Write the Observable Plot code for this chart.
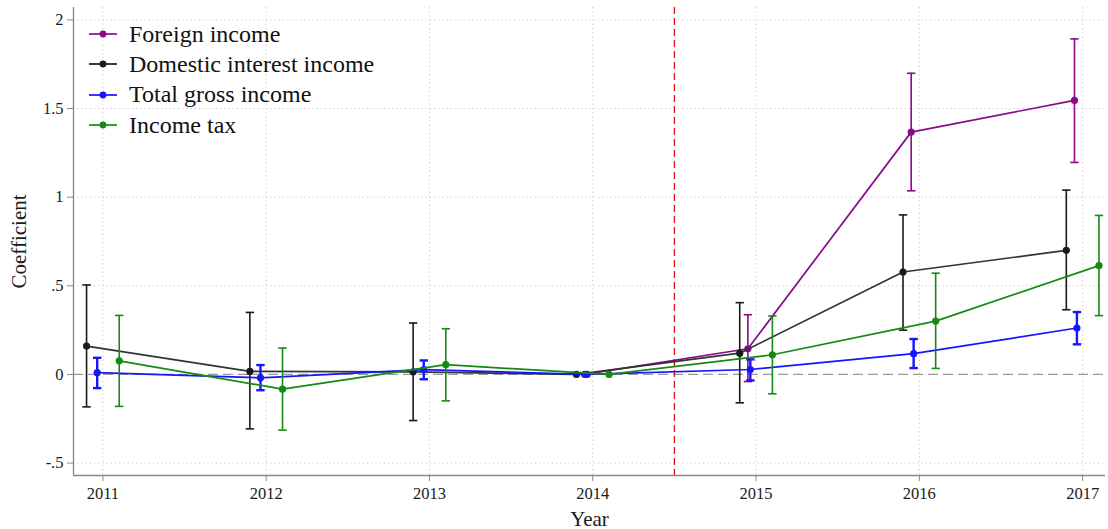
<!DOCTYPE html>
<html><head><meta charset="utf-8">
<script src="https://cdn.jsdelivr.net/npm/d3@7"></script>
<script src="https://cdn.jsdelivr.net/npm/@observablehq/plot@0.6"></script>
<style>
html,body{margin:0;padding:0;background:#fff;}
#wrap{position:relative;width:1108px;height:529px;font-family:"Liberation Serif",serif;color:#1a1a1a;}
#wrap svg{color:#1a1a1a;}
#legend{position:absolute;left:88px;top:19px;}
.row{display:flex;align-items:center;height:30.3px;font-size:24px;color:#111;white-space:nowrap;}
.row svg{margin-right:11px;}
g[aria-label="x-axis label"] text, g[aria-label="y-axis label"] text{font-size:21px;}
</style></head><body><div id="wrap"><div id="legend"></div></div>
<script>
const years = [2011, 2012, 2013, 2014, 2015, 2016, 2017];
const seriesNames = ["Foreign income", "Domestic interest income", "Total gross income", "Income tax"];
const seriesColors = ["#8a0a8a", "#1a1a1a", "#1515ff", "#138a13"];
const seriesOffsets = [-0.05, -0.1, -0.035, 0.1];

const foreignCoef = [null, null, null, 0, 0.145, 1.367, 1.546];
const foreignLo   = [null, null, null, null, -0.04, 1.036, 1.196];
const foreignHi   = [null, null, null, null, 0.337, 1.699, 1.893];

const domesticCoef = [0.16, 0.017, 0.015, 0, 0.12, 0.578, 0.70];
const domesticLo   = [-0.183, -0.307, -0.26, null, -0.16, 0.25, 0.365];
const domesticHi   = [0.505, 0.35, 0.29, null, 0.405, 0.90, 1.04];

const totalCoef = [0.01, -0.019, 0.027, 0, 0.028, 0.117, 0.262];
const totalLo   = [-0.077, -0.089, -0.027, null, -0.034, 0.036, 0.17];
const totalHi   = [0.094, 0.053, 0.079, null, 0.085, 0.20, 0.352];

const taxCoef = [0.077, -0.083, 0.055, 0, 0.111, 0.301, 0.614];
const taxLo   = [-0.18, -0.314, -0.149, null, -0.109, 0.034, 0.332];
const taxHi   = [0.333, 0.149, 0.258, null, 0.33, 0.571, 0.897];

const yTicks = [-0.5, 0, 0.5, 1, 1.5, 2];
const yTickLabels = ["-.5", "0", ".5", "1", "1.5", "2"];
const treatmentLine = 2014.5;
const xDomain = [2010.82, 2017.14];
const yDomain = [-0.57, 2.07];

const seriesCoef = [foreignCoef, domesticCoef, totalCoef, taxCoef];
const seriesLo = [foreignLo, domesticLo, totalLo, taxLo];
const seriesHi = [foreignHi, domesticHi, totalHi, taxHi];
const barWidths = [1.6, 1.6, 2.4, 1.6];

const rows = [];
seriesNames.forEach((name, s) => {
  years.forEach((yr, i) => {
    if (seriesCoef[s][i] == null) return;
    rows.push({series: name, s, x: yr + seriesOffsets[s], coef: seriesCoef[s][i], lo: seriesLo[s][i], hi: seriesHi[s][i]});
  });
});
const ci = rows.filter(d => d.lo != null);

const cap = {draw(ctx, size) { const r = Math.sqrt(size / Math.PI); ctx.moveTo(-r, 0); ctx.lineTo(r, 0); }};

const marks = [
  Plot.gridY(yTicks.filter(v => v !== 0), {stroke: "#c8c8c8", strokeOpacity: 1, strokeDasharray: "1.2,3"}),
  Plot.gridX(years, {stroke: "#c8c8c8", strokeOpacity: 1, strokeDasharray: "1.2,3"}),
  Plot.ruleY([0], {stroke: "#999", strokeWidth: 1.2, strokeDasharray: "10,5"}),
  Plot.ruleX([treatmentLine], {stroke: "#e01010", strokeWidth: 1.3, strokeDasharray: "7,4"}),
  Plot.ruleX([xDomain[0]], {y1: yDomain[0], y2: yDomain[1], stroke: "#888", strokeWidth: 1.3}),
  Plot.ruleY([yDomain[0]], {stroke: "#888", strokeWidth: 1.3}),
  Plot.axisY({ticks: yTicks, tickFormat: d => yTickLabels[yTicks.indexOf(d)], tickSize: 6, tickPadding: 4, fontSize: 16.5, stroke: "#888", label: "Coefficient", labelAnchor: "center", labelOffset: 62, labelArrow: "none"}),
  Plot.axisX({ticks: years, tickFormat: d => String(d), tickSize: 6, tickPadding: 6, fontSize: 16.5, stroke: "#888", label: "Year", labelAnchor: "center", labelOffset: 50, labelArrow: "none"})
];
seriesNames.forEach((name, s) => {
  const sd = rows.filter(d => d.s === s);
  const sc = ci.filter(d => d.s === s);
  marks.push(
    Plot.ruleX(sc, {x: "x", y1: "lo", y2: "hi", stroke: seriesColors[s], strokeWidth: barWidths[s]}),
    Plot.dot(sc, {x: "x", y: "lo", symbol: cap, r: 4.2, stroke: seriesColors[s], strokeWidth: barWidths[s], fill: "none"}),
    Plot.dot(sc, {x: "x", y: "hi", symbol: cap, r: 4.2, stroke: seriesColors[s], strokeWidth: barWidths[s], fill: "none"}),
    Plot.line(sd, {x: "x", y: "coef", stroke: s === 1 ? "#333" : seriesColors[s], strokeWidth: 1.7}),
    Plot.dot(sd, {x: "x", y: "coef", r: 3.6, fill: seriesColors[s], stroke: "none"})
  );
});

const chart = Plot.plot({
  width: 1108, height: 529,
  marginLeft: 73, marginRight: 3, marginTop: 7, marginBottom: 54,
  style: {fontFamily: "'Liberation Serif', serif", background: "#fff"},
  x: {domain: xDomain},
  y: {domain: yDomain},
  marks
});
document.getElementById("wrap").insertBefore(chart, document.getElementById("legend"));

const legend = d3.select("#legend");
seriesNames.forEach((name, s) => {
  const row = legend.append("div").attr("class", "row");
  const sv = row.append("svg").attr("width", 30).attr("height", 12);
  sv.append("line").attr("x1", 1).attr("x2", 29).attr("y1", 6).attr("y2", 6).attr("stroke", seriesColors[s]).attr("stroke-width", 1.7);
  sv.append("circle").attr("cx", 15).attr("cy", 6).attr("r", 3.4).attr("fill", seriesColors[s]);
  row.append("span").text(name);
});
</script></body></html>
